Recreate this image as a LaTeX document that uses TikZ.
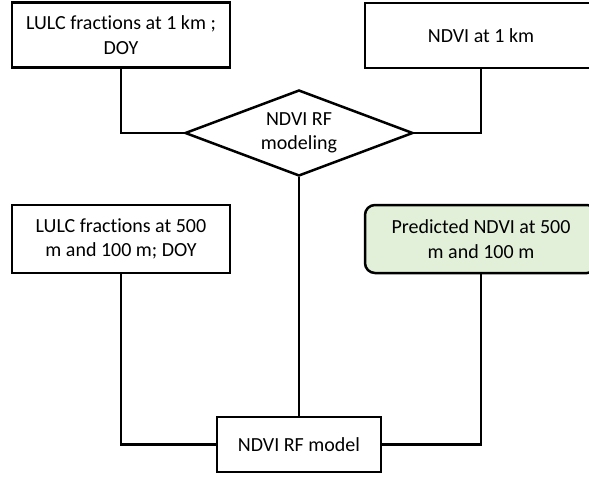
\documentclass[tikz,border=0pt]{standalone}
\usepackage{fontspec}
\setmainfont[Ligatures=NoCommon]{Carlito}
\usetikzlibrary{shapes.geometric}
\definecolor{lightgreen}{HTML}{E2F0D9}
\begin{document}
\begin{tikzpicture}[x=1pt,y=-1pt,
  every node/.style={font=\fontsize{20}{24.4}\selectfont, align=center, inner sep=0pt},
  box/.style={draw, line width=2.5pt, rectangle},
  rbox/.style={draw, line width=2.5pt, rectangle, rounded corners=10pt, fill=lightgreen},
  dia/.style={draw, line width=2.5pt, diamond, aspect=2.65},
  conn/.style={line width=2.5pt}]
\clip (0,0) rectangle (589,477);
\fill[white] (0,0) rectangle (589,477);
\node[box, minimum width=218pt, minimum height=65pt] (tl) at (121,35.2) {LULC fractions at 1 km ;\\DOY};
\node[box, minimum width=232pt, minimum height=65pt] (tr) at (481,35.5) {NDVI at 1 km};
\node[dia, minimum width=228pt, minimum height=86pt] (dm) at (299,133) {NDVI RF\\modeling};
\node[box, minimum width=218pt, minimum height=68pt] (ml) at (121,239) {LULC fractions at 500\\m and 100 m; DOY};
\node[rbox, minimum width=232pt, minimum height=68pt] (gr) at (481,239) {Predicted NDVI at 500\\m and 100 m};
\node[box, minimum width=164pt, minimum height=55pt] (md) at (299,444.5) {NDVI RF model};
\draw[conn] (tl.south) |- (dm.west);
\draw[conn] (tr.south) |- (dm.east);
\draw[conn] (dm.south) -- (md.north);
\draw[conn] (ml.south) |- (md.west);
\draw[conn] (gr.south) |- (md.east);
\end{tikzpicture}
\end{document}
